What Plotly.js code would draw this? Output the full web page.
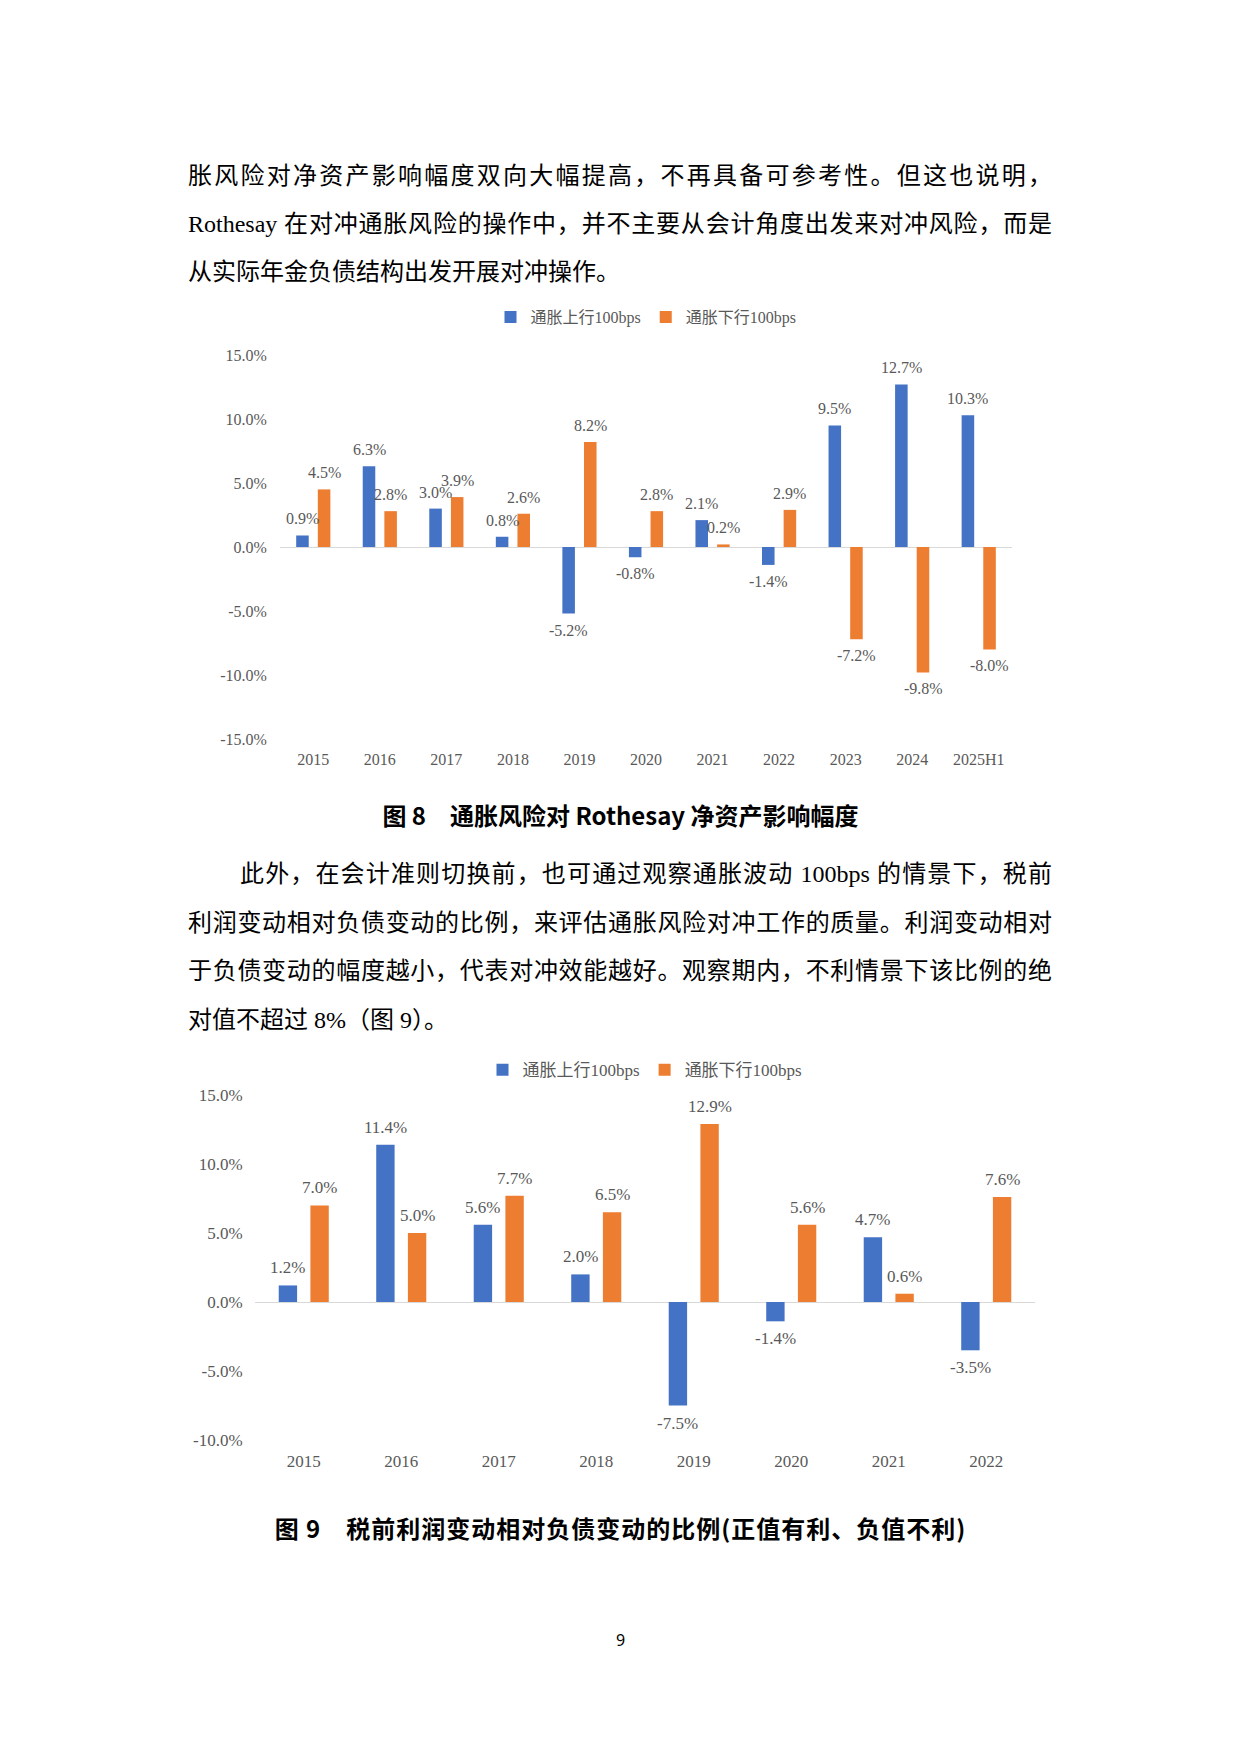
<!DOCTYPE html>
<html>
<head>
<meta charset="utf-8">
<script src="https://cdn.plot.ly/plotly-3.0.1.min.js"></script>
<style>
  html, body { margin:0; padding:0; background:#fff; }
  #page { position:relative; width:1241px; height:1754px; background:#fff; overflow:hidden; }
  .ln { position:absolute; font-family:"Liberation Serif","Noto Sans CJK SC",serif; font-size:24px; line-height:30px; color:#000; white-space:nowrap; }
  .jf { white-space:normal; text-align:justify; text-align-last:justify; }
  .cap { position:absolute; left:0; width:1241px; text-align:center; font-family:"Noto Sans CJK SC",sans-serif; font-weight:700; font-size:24px; line-height:30px; color:#000; }
  .chart { position:absolute; }
</style>
</head>
<body>
<div id="page">
  <div class="ln jf" style="left:188px; width:864px; top:161px;">胀风险对净资产影响幅度双向大幅提高，不再具备可参考性。但这也说明，</div>
  <div class="ln jf" style="left:188px; width:864px; top:209px;">Rothesay 在对冲通胀风险的操作中，并不主要从会计角度出发来对冲风险，而是</div>
  <div class="ln" style="left:188px; top:257px;">从实际年金负债结构出发开展对冲操作。</div>

  <div id="chart1" class="chart" style="left:180px; top:289px; width:880px; height:500px;"></div>

  <div class="cap" style="top:800px;">图 8　通胀风险对 Rothesay 净资产影响幅度</div>

  <div class="ln jf" style="left:240px; width:812px; top:859px;">此外，在会计准则切换前，也可通过观察通胀波动 100bps 的情景下，税前</div>
  <div class="ln jf" style="left:188px; width:864px; top:908px;">利润变动相对负债变动的比例，来评估通胀风险对冲工作的质量。利润变动相对</div>
  <div class="ln jf" style="left:188px; width:864px; top:956px;">于负债变动的幅度越小，代表对冲效能越好。观察期内，不利情景下该比例的绝</div>
  <div class="ln" style="left:188px; top:1005px;">对值不超过 8%（图 9）。</div>

  <div id="chart2" class="chart" style="left:180px; top:1040px; width:880px; height:440px;"></div>

  <div class="cap" style="top:1513px; letter-spacing:1px;">图 9　税前利润变动相对负债变动的比例(正值有利、负值不利)</div>

  <div style="position:absolute; left:0; width:1241px; top:1630px; text-align:center; font-family:'Noto Sans','Liberation Sans',sans-serif; font-size:16px; line-height:20px; color:#000;">9</div>
</div>

<script>
// ---- Data ----
const seriesNames = ['通胀上行100bps', '通胀下行100bps'];
const seriesColors = ['#4472C4', '#ED7D31'];

const years1 = ['2015','2016','2017','2018','2019','2020','2021','2022','2023','2024','2025H1'];
const up1   = [0.9, 6.3, 3.0, 0.8, -5.2, -0.8, 2.1, -1.4, 9.5, 12.7, 10.3];
const down1 = [4.5, 2.8, 3.9, 2.6, 8.2, 2.8, 0.2, 2.9, -7.2, -9.8, -8.0];

const years2 = ['2015','2016','2017','2018','2019','2020','2021','2022'];
const up2   = [1.2, 11.4, 5.6, 2.0, -7.5, -1.4, 4.7, -3.5];
const down2 = [7.0, 5.0, 7.7, 6.5, 12.9, 5.6, 0.6, 7.6];

const yTicks1 = [-15, -10, -5, 0, 5, 10, 15];
const yTicks2 = [-10, -5, 0, 5, 10, 15];

// ---- Drawing ----
const SERIF = 'Liberation Serif, Noto Sans CJK SC, serif';
const GRAY = '#595959';
const BARGAP = 0.35;
const fmt = v => v.toFixed(1) + '%';   // ASCII hyphen like the source

function barTrace(x, y, i) {
  return {
    type: 'bar', x: x, y: y, name: seriesNames[i],
    marker: { color: seriesColors[i] },
    hoverinfo: 'skip'
  };
}

// data labels placed on the bar ends via the library's axis scales
function labelAnnotations(seriesList, fs, shift) {
  const half = (1 - BARGAP) / 4;
  const out = [];
  seriesList.forEach((vals, s) => {
    const dx = s === 0 ? -half : half;
    vals.forEach((v, i) => {
      out.push({
        x: i + dx, y: v, xref: 'x', yref: 'y',
        text: fmt(v), showarrow: false,
        xanchor: 'center', yanchor: v >= 0 ? 'bottom' : 'top',
        yshift: v >= 0 ? shift : -shift,
        font: { family: SERIF, size: fs, color: GRAY }
      });
    });
  });
  return out;
}

function makeLayout(w, h, m, ticks, legendY, fs, yticklen, annots) {
  return {
    width: w, height: h,
    margin: m,
    paper_bgcolor: '#fff', plot_bgcolor: '#fff',
    barmode: 'group',
    bargap: BARGAP,
    bargroupgap: 0.42,
    showlegend: true,
    legend: {
      orientation: 'h', x: 0.5, xanchor: 'center', y: legendY, yanchor: 'middle',
      font: { family: SERIF, size: fs, color: GRAY },
      itemclick: false, itemdoubleclick: false
    },
    xaxis: {
      type: 'category', showgrid: false, showline: false, zeroline: false,
      ticks: 'outside', ticklen: 6, tickcolor: 'rgba(0,0,0,0)',
      tickfont: { family: SERIF, size: fs, color: GRAY }
    },
    yaxis: {
      range: [ticks[0], ticks[ticks.length - 1]],
      tickmode: 'array', tickvals: ticks, ticktext: ticks.map(fmt),
      showgrid: false, showline: false,
      zeroline: true, zerolinecolor: '#D9D9D9', zerolinewidth: 1,
      ticks: 'outside', ticklen: yticklen, tickcolor: 'rgba(0,0,0,0)',
      tickfont: { family: SERIF, size: fs, color: GRAY }
    },
    annotations: annots
  };
}

Plotly.newPlot('chart1',
  [barTrace(years1, up1, 0), barTrace(years1, down1, 1)],
  makeLayout(880, 500, { l: 100, r: 48, t: 65, b: 50 }, yTicks1, 1.096, 16, 9,
             labelAnnotations([up1, down1], 16, 6)),
  { staticPlot: true });

Plotly.newPlot('chart2',
  [barTrace(years2, up2, 0), barTrace(years2, down2, 1)],
  makeLayout(880, 440, { l: 75, r: 25, t: 50, b: 40 }, yTicks2, 1.0716, 17, 8,
             labelAnnotations([up2, down2], 17, 6)),
  { staticPlot: true });
</script>
</body>
</html>
